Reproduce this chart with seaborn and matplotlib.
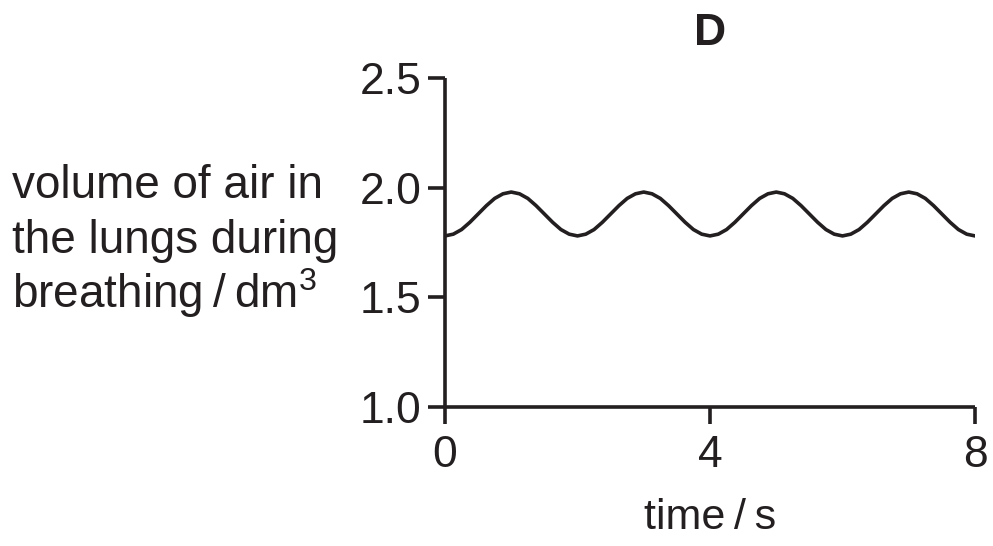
import matplotlib
matplotlib.use("Agg")
import matplotlib.pyplot as plt
import seaborn as sns

# readings (time in s, volume in dm3)
time_s = [0.0, 0.125, 0.25, 0.375, 0.5, 0.625, 0.75, 0.875,
          1.0, 1.125, 1.25, 1.375, 1.5, 1.625, 1.75, 1.875,
          2.0, 2.125, 2.25, 2.375, 2.5, 2.625, 2.75, 2.875,
          3.0, 3.125, 3.25, 3.375, 3.5, 3.625, 3.75, 3.875,
          4.0, 4.125, 4.25, 4.375, 4.5, 4.625, 4.75, 4.875,
          5.0, 5.125, 5.25, 5.375, 5.5, 5.625, 5.75, 5.875,
          6.0, 6.125, 6.25, 6.375, 6.5, 6.625, 6.75, 6.875,
          7.0, 7.125, 7.25, 7.375, 7.5, 7.625, 7.75, 7.875,
          8.0]
volume = [1.780, 1.788, 1.809, 1.842, 1.880, 1.918, 1.951, 1.972,
          1.980, 1.972, 1.951, 1.918, 1.880, 1.842, 1.809, 1.788,
          1.780, 1.788, 1.809, 1.842, 1.880, 1.918, 1.951, 1.972,
          1.980, 1.972, 1.951, 1.918, 1.880, 1.842, 1.809, 1.788,
          1.780, 1.788, 1.809, 1.842, 1.880, 1.918, 1.951, 1.972,
          1.980, 1.972, 1.951, 1.918, 1.880, 1.842, 1.809, 1.788,
          1.780, 1.788, 1.809, 1.842, 1.880, 1.918, 1.951, 1.972,
          1.980, 1.972, 1.951, 1.918, 1.880, 1.842, 1.809, 1.788,
          1.780]
x_ticks = [0, 4, 8]
y_ticks = [1.0, 1.5, 2.0, 2.5]
y_label_lines = ["volume of air in", "the lungs during", "breathing\u2009/\u2009dm$^{3}$"]

ink = "#231f20"
lw = 2.6

sns.set_style("ticks")
plt.rcParams['font.family'] = ['Liberation Sans', 'DejaVu Sans']
plt.rcParams['mathtext.fontset'] = 'custom'
plt.rcParams['mathtext.rm'] = 'Liberation Sans'
plt.rcParams['mathtext.default'] = 'rm'

fig = plt.figure(figsize=(9.93, 5.46), dpi=100)
ax = fig.add_axes([445 / 993, 1 - 407 / 546, 530 / 993, 329 / 546])

sns.lineplot(x=time_s, y=volume, ax=ax, color=ink, linewidth=lw)

ax.set_xlim(0, 8)
ax.set_ylim(1.0, 2.5)
ax.set_xticks(x_ticks)
ax.set_yticks(y_ticks)
ax.set_yticklabels([f"{v:.1f}" for v in y_ticks])
ax.tick_params(axis='both', length=12, width=lw, colors=ink, labelsize=32)
ax.tick_params(axis='y', pad=5)
ax.tick_params(axis='x', pad=8)
for side in ['top', 'right']:
    ax.spines[side].set_visible(False)
for side in ['left', 'bottom']:
    ax.spines[side].set_linewidth(lw)
    ax.spines[side].set_color(ink)
    ax.spines[side].set_capstyle('butt')

ax.set_xlabel("time\u2009/\u2009s", fontsize=31, color=ink, labelpad=16)
ax.set_title("D", fontsize=32, fontweight='bold', color=ink, pad=24)

for i, line in enumerate(y_label_lines):
    fig.text(12 / 993, 1 - (198 + 55 * i) / 546, line, fontsize=33, color=ink,
             ha='left', va='baseline')

fig.savefig("out.png", dpi=100)
